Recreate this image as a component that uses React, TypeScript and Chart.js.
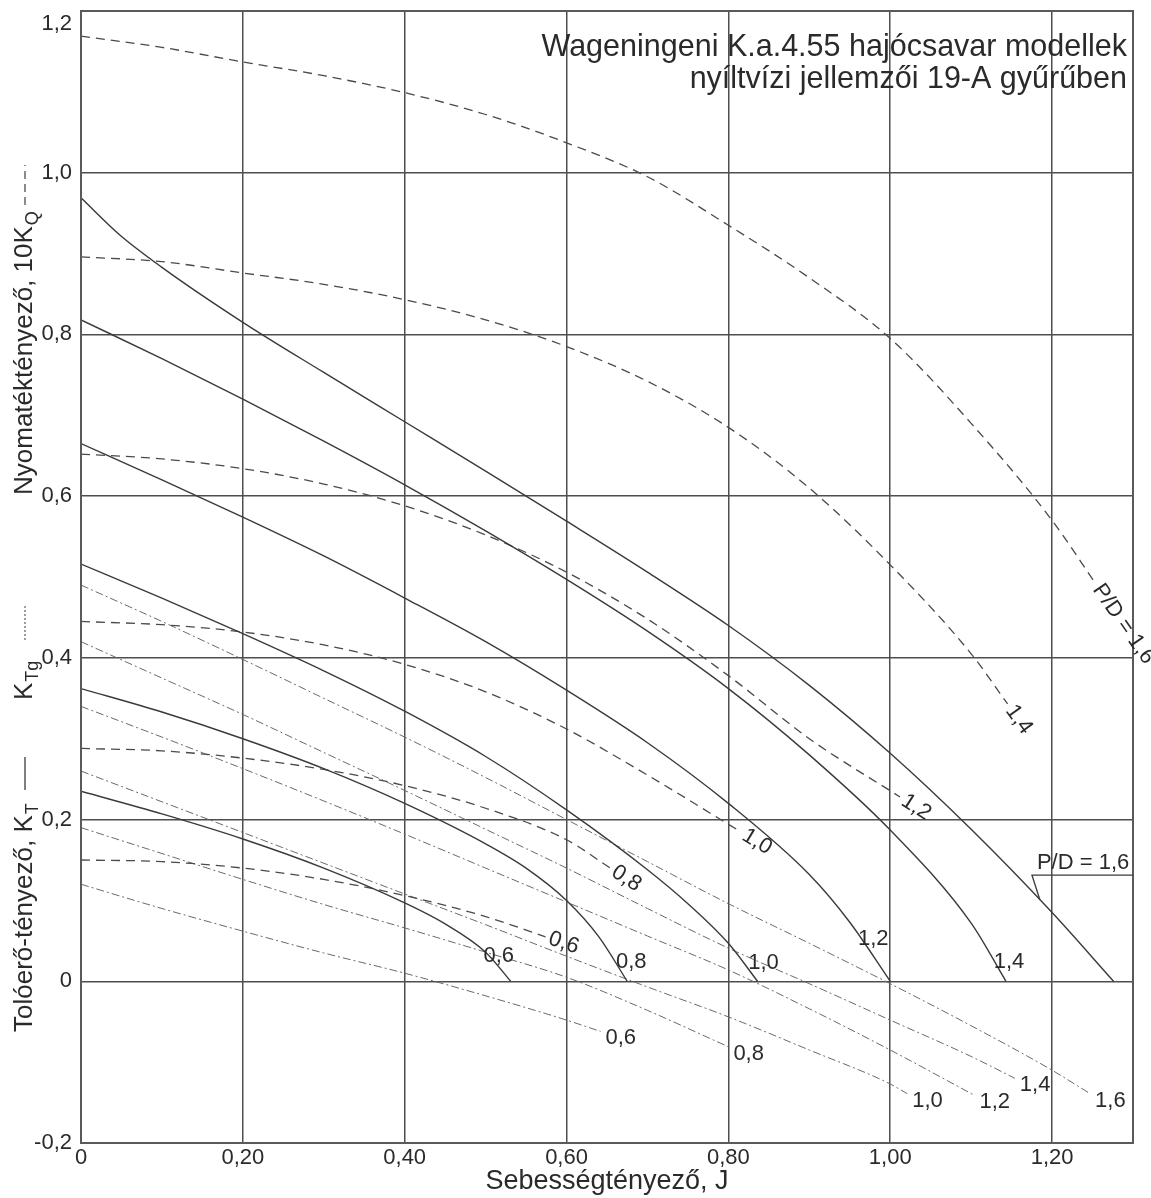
import React, { useEffect, useRef } from "react";
import { Chart, registerables } from "chart.js";

Chart.register(...registerables);

const FONT = '"Liberation Sans", Arial, Helvetica, sans-serif';

// Pitch ratios (P/D) labels
const PD_LABELS = ["0,6", "0,8", "1,0", "1,2", "1,4", "1,6"];

// ---- Thrust coefficient KT (solid) ----
const KT_J_06 = [0, 0.1, 0.2, 0.3, 0.4, 0.45, 0.5, 0.531];
const KT_V_06 = [0.235, 0.207, 0.176, 0.14, 0.097, 0.071, 0.036, 0];
const KT_J_08 = [0, 0.1, 0.2, 0.3, 0.4, 0.5, 0.55, 0.6, 0.64, 0.675];
const KT_V_08 = [0.362, 0.333, 0.3, 0.263, 0.22, 0.17, 0.14, 0.1, 0.055, 0];
const KT_J_10 = [0, 0.1, 0.2, 0.3, 0.4, 0.5, 0.6, 0.7, 0.75, 0.8, 0.836];
const KT_V_10 = [0.516, 0.474, 0.43, 0.384, 0.334, 0.278, 0.212, 0.138, 0.096, 0.047, 0];
const KT_J_12 = [0, 0.1, 0.2, 0.3, 0.4, 0.5, 0.6, 0.7, 0.8, 0.9, 0.95, 1.0];
const KT_V_12 = [0.665, 0.62, 0.574, 0.526, 0.474, 0.42, 0.36, 0.295, 0.22, 0.132, 0.073, 0];
const KT_J_14 = [0, 0.1, 0.2, 0.3, 0.4, 0.5, 0.6, 0.7, 0.8, 0.9, 1.0, 1.1, 1.143];
const KT_V_14 = [0.818, 0.77, 0.72, 0.668, 0.614, 0.557, 0.497, 0.433, 0.362, 0.28, 0.187, 0.072, 0];
const KT_J_16 = [0, 0.048, 0.1, 0.2, 0.3, 0.4, 0.5, 0.6, 0.7, 0.8, 0.9, 1.0, 1.1, 1.2, 1.276];
const KT_V_16 = [0.969, 0.923, 0.883, 0.815, 0.753, 0.692, 0.631, 0.569, 0.506, 0.44, 0.366, 0.282, 0.188, 0.085, 0];

// ---- Torque coefficient 10KQ (dashed) ----
const KQ_J_06 = [0, 0.1, 0.2, 0.3, 0.4, 0.5, 0.574];
const KQ_V_06 = [0.15, 0.148, 0.14, 0.126, 0.106, 0.08, 0.055];
const KQ_J_08 = [0, 0.1, 0.2, 0.3, 0.4, 0.5, 0.6, 0.654];
const KQ_V_08 = [0.288, 0.285, 0.276, 0.262, 0.242, 0.214, 0.175, 0.14];
const KQ_J_10 = [0, 0.1, 0.2, 0.3, 0.4, 0.5, 0.6, 0.7, 0.815];
const KQ_V_10 = [0.445, 0.441, 0.432, 0.416, 0.392, 0.358, 0.312, 0.255, 0.185];
const KQ_J_12 = [0, 0.1, 0.2, 0.3, 0.4, 0.5, 0.6, 0.7, 0.8, 0.9, 1.012];
const KQ_V_12 = [0.652, 0.646, 0.634, 0.615, 0.588, 0.552, 0.506, 0.448, 0.378, 0.3, 0.228];
const KQ_J_14 = [0, 0.1, 0.2, 0.3, 0.4, 0.5, 0.6, 0.7, 0.8, 0.9, 1.0, 1.1, 1.145];
const KQ_V_14 = [0.896, 0.89, 0.876, 0.862, 0.843, 0.818, 0.785, 0.742, 0.685, 0.61, 0.515, 0.405, 0.343];
const KQ_J_16 = [0, 0.1, 0.2, 0.3, 0.4, 0.5, 0.6, 0.7, 0.8, 0.9, 1.0, 1.1, 1.2, 1.253];
const KQ_V_16 = [1.169, 1.155, 1.137, 1.12, 1.099, 1.072, 1.037, 0.995, 0.935, 0.87, 0.795, 0.69, 0.57, 0.493];

// ---- Nozzle thrust KTg (dash-dot) ----
const KTG_J_06 = [0, 0.1, 0.2, 0.3, 0.4, 0.5, 0.6, 0.642];
const KTG_V_06 = [0.12, 0.09, 0.062, 0.035, 0.01, -0.018, -0.048, -0.062];
const KTG_J_08 = [0, 0.1, 0.2, 0.3, 0.4, 0.5, 0.6, 0.7, 0.8];
const KTG_V_08 = [0.19, 0.158, 0.126, 0.095, 0.066, 0.036, 0.005, -0.036, -0.081];
const KTG_J_10 = [0, 0.1, 0.2, 0.3, 0.4, 0.5, 0.6, 0.7, 0.8, 0.9, 1.0, 1.021];
const KTG_V_10 = [0.26, 0.222, 0.184, 0.146, 0.108, 0.07, 0.031, -0.007, -0.044, -0.085, -0.127, -0.139];
const KTG_J_12 = [0, 0.1, 0.2, 0.3, 0.4, 0.5, 0.6, 0.7, 0.8, 0.9, 1.0, 1.104];
const KTG_V_12 = [0.34, 0.302, 0.263, 0.223, 0.182, 0.14, 0.098, 0.056, 0.014, -0.034, -0.085, -0.141];
const KTG_J_14 = [0, 0.1, 0.2, 0.3, 0.4, 0.5, 0.6, 0.7, 0.8, 0.9, 1.0, 1.1, 1.154];
const KTG_V_14 = [0.42, 0.375, 0.33, 0.283, 0.236, 0.188, 0.14, 0.09, 0.041, -0.003, -0.048, -0.093, -0.12];
const KTG_J_16 = [0, 0.1, 0.2, 0.3, 0.4, 0.5, 0.6, 0.7, 0.8, 0.9, 1.0, 1.1, 1.2, 1.247];
const KTG_V_16 = [0.49, 0.445, 0.398, 0.35, 0.302, 0.252, 0.2, 0.148, 0.096, 0.047, -0.003, -0.055, -0.11, -0.139];

const KT_SERIES = [
  [KT_J_06, KT_V_06], [KT_J_08, KT_V_08], [KT_J_10, KT_V_10],
  [KT_J_12, KT_V_12], [KT_J_14, KT_V_14], [KT_J_16, KT_V_16],
];
const KQ_SERIES = [
  [KQ_J_06, KQ_V_06], [KQ_J_08, KQ_V_08], [KQ_J_10, KQ_V_10],
  [KQ_J_12, KQ_V_12], [KQ_J_14, KQ_V_14], [KQ_J_16, KQ_V_16],
];
const KTG_SERIES = [
  [KTG_J_06, KTG_V_06], [KTG_J_08, KTG_V_08], [KTG_J_10, KTG_V_10],
  [KTG_J_12, KTG_V_12], [KTG_J_14, KTG_V_14], [KTG_J_16, KTG_V_16],
];

const TITLE_LINES = [
  "Wageningeni K.a.4.55 hajócsavar modellek",
  "nyíltvízi jellemzői 19-A gyűrűben",
];
const X_TITLE = "Sebességtényező, J";
const KT_CALLOUT = "P/D = 1,6";
const KT_CALLOUT_J = 1.185;

// label offsets (pixels) for the KT end labels 0,6 .. 1,4
const KT_LABEL_OFFSETS = [
  [-12, -25], [4, -19], [6, -18], [-17, -42], [3, -19],
];

const toPts = (j: number[], v: number[]) => j.map((x, i) => ({ x, y: v[i] }));

const fmtX = (v: number) => (Math.abs(v) < 1e-9 ? "0" : v.toFixed(2).replace(".", ","));
const fmtY = (v: number) => (Math.abs(v) < 1e-9 ? "0" : v.toFixed(1).replace(".", ","));

function interp(j: number[], v: number[], x: number) {
  for (let i = 1; i < j.length; i++) {
    if (x <= j[i]) {
      const t = (x - j[i - 1]) / (j[i] - j[i - 1]);
      return v[i - 1] + t * (v[i] - v[i - 1]);
    }
  }
  return v[v.length - 1];
}

function drawVerticalText(
  ctx: CanvasRenderingContext2D,
  x: number,
  yBottom: number,
  main: string,
  sub: string,
  size: number
) {
  ctx.save();
  ctx.translate(x, yBottom);
  ctx.rotate(-Math.PI / 2);
  ctx.textAlign = "left";
  ctx.textBaseline = "middle";
  ctx.font = `${size}px ${FONT}`;
  ctx.fillText(main, 0, 0);
  const w = ctx.measureText(main).width;
  if (sub) {
    ctx.font = `${Math.round(size * 0.68)}px ${FONT}`;
    ctx.fillText(sub, w + 1, size * 0.3);
  }
  ctx.restore();
}

const annotations = {
  id: "annotations",
  afterDatasetsDraw(chart: any) {
    const { ctx, chartArea: a, scales } = chart;
    const sx = scales.x;
    const sy = scales.y;
    const P = (j: number, v: number) => ({ x: sx.getPixelForValue(j), y: sy.getPixelForValue(v) });
    ctx.save();

    // frame
    ctx.strokeStyle = "#5a5a5a";
    ctx.lineWidth = 2;
    ctx.setLineDash([]);
    ctx.strokeRect(a.left, a.top, a.right - a.left, a.bottom - a.top);

    ctx.fillStyle = "#2a2a2a";

    // chart title
    ctx.font = `30.5px ${FONT}`;
    ctx.textAlign = "right";
    ctx.textBaseline = "alphabetic";
    ctx.fillText(TITLE_LINES[0], 1127, 56);
    ctx.fillText(TITLE_LINES[1], 1127, 88);

    // KT end labels
    ctx.font = `22px ${FONT}`;
    ctx.textAlign = "center";
    ctx.textBaseline = "middle";
    for (let i = 0; i < 5; i++) {
      const [j, v] = KT_SERIES[i];
      const e = P(j[j.length - 1], v[v.length - 1]);
      const [dx, dy] = KT_LABEL_OFFSETS[i];
      ctx.fillText(PD_LABELS[i], e.x + dx, e.y + dy);
    }

    // KT P/D = 1,6 callout
    {
      const [j, v] = KT_SERIES[5];
      const c = P(KT_CALLOUT_J, interp(j, v, KT_CALLOUT_J));
      const ex = c.x - 8;
      const ey = c.y - 25;
      ctx.strokeStyle = "#3c3c3c";
      ctx.lineWidth = 1.3;
      ctx.beginPath();
      ctx.moveTo(c.x, c.y);
      ctx.lineTo(ex, ey);
      ctx.lineTo(a.right, ey);
      ctx.stroke();
      ctx.textAlign = "left";
      ctx.textBaseline = "alphabetic";
      ctx.fillText(KT_CALLOUT, ex + 5, ey - 6);
    }

    // KQ labels, rotated along curve ends
    ctx.textAlign = "left";
    ctx.textBaseline = "middle";
    for (let i = 0; i < 6; i++) {
      const [j, v] = KQ_SERIES[i];
      const n = j.length;
      const p1 = P(j[n - 2], v[n - 2]);
      const p2 = P(j[n - 1], v[n - 1]);
      const ang = Math.atan2(p2.y - p1.y, p2.x - p1.x);
      ctx.save();
      ctx.translate(p2.x, p2.y);
      ctx.rotate(ang);
      ctx.fillText(i === 5 ? "P/D = " + PD_LABELS[i] : PD_LABELS[i], 4, 0);
      ctx.restore();
    }

    // KTg labels at line ends
    ctx.textAlign = "left";
    ctx.textBaseline = "middle";
    for (let i = 0; i < 6; i++) {
      const [j, v] = KTG_SERIES[i];
      const e = P(j[j.length - 1], v[v.length - 1]);
      ctx.fillText(PD_LABELS[i], e.x + 5, e.y + 7);
    }

    // y-axis composite title
    const tx = 25;
    ctx.fillStyle = "#2a2a2a";
    drawVerticalText(ctx, tx, 1032, "Tolóerő-tényező, K", "T", 26);
    ctx.strokeStyle = "#3c3c3c";
    ctx.lineWidth = 1.3;
    ctx.setLineDash([]);
    ctx.beginPath();
    ctx.moveTo(tx, 790);
    ctx.lineTo(tx, 757);
    ctx.stroke();
    drawVerticalText(ctx, tx, 700, "K", "Tg", 26);
    ctx.lineWidth = 1;
    ctx.setLineDash([2, 2]);
    ctx.beginPath();
    ctx.moveTo(tx, 640);
    ctx.lineTo(tx, 605);
    ctx.stroke();
    drawVerticalText(ctx, tx, 495, "Nyomatéktényező, 10K", "Q", 26);
    ctx.lineWidth = 1.2;
    ctx.setLineDash([8, 5]);
    ctx.beginPath();
    ctx.moveTo(tx, 205);
    ctx.lineTo(tx, 165);
    ctx.stroke();
    ctx.setLineDash([]);

    ctx.restore();
  },
};

export default function App() {
  const ref = useRef<HTMLCanvasElement | null>(null);

  useEffect(() => {
    if (!ref.current) return;
    const datasets: any[] = [];
    KT_SERIES.forEach(([j, v], i) => {
      datasets.push({
        label: "KT " + PD_LABELS[i],
        data: toPts(j, v),
        borderColor: "#3a3a3a",
        borderWidth: 1.4,
        pointRadius: 0,
        cubicInterpolationMode: "monotone",
        fill: false,
      });
    });
    KQ_SERIES.forEach(([j, v], i) => {
      datasets.push({
        label: "10KQ " + PD_LABELS[i],
        data: toPts(j, v),
        borderColor: "#4a4a4a",
        borderWidth: 1.3,
        borderDash: [9, 6],
        pointRadius: 0,
        cubicInterpolationMode: "monotone",
        fill: false,
      });
    });
    KTG_SERIES.forEach(([j, v], i) => {
      datasets.push({
        label: "KTg " + PD_LABELS[i],
        data: toPts(j, v),
        borderColor: "#6a6a6a",
        borderWidth: 1,
        borderDash: [8, 3, 2, 3],
        pointRadius: 0,
        cubicInterpolationMode: "monotone",
        fill: false,
      });
    });

    const chart = new Chart(ref.current, {
      type: "line",
      data: { datasets },
      options: {
        responsive: false,
        animation: false,
        events: [],
        layout: { padding: { left: 0, top: 11, right: 18, bottom: 0 } },
        plugins: { legend: { display: false }, tooltip: { enabled: false } },
        scales: {
          x: {
            type: "linear",
            min: 0,
            max: 1.3,
            afterFit: (s: any) => {
              s.height = 55;
              s.paddingLeft = 0;
              s.paddingRight = 0;
            },
            ticks: {
              stepSize: 0.2,
              includeBounds: false,
              padding: 2,
              color: "#2a2a2a",
              font: { family: FONT, size: 22 },
              callback: (v: any) => fmtX(Number(v)),
              maxRotation: 0,
            },
            grid: { color: "#4e4e4e", lineWidth: 1.5, drawTicks: false },
            border: { display: false },
            title: {
              display: true,
              text: X_TITLE,
              color: "#2a2a2a",
              font: { family: FONT, size: 27 },
              padding: { top: 0, bottom: 0 },
            },
          },
          y: {
            type: "linear",
            min: -0.2,
            max: 1.2,
            afterFit: (s: any) => {
              s.width = 81;
              s.paddingTop = 0;
              s.paddingBottom = 0;
            },
            ticks: {
              stepSize: 0.2,
              padding: 9,
              color: "#2a2a2a",
              font: { family: FONT, size: 22 },
              callback: (v: any) => {
                const n = Number(v);
                const s = fmtY(n);
                return Math.abs(n - 1.2) < 1e-6 ? ["", s] : s;
              },
            },
            grid: { color: "#4e4e4e", lineWidth: 1.5, drawTicks: false },
            border: { display: false },
          },
        },
      },
      plugins: [annotations],
    });
    return () => chart.destroy();
  }, []);

  return (
    <div style={{ position: "absolute", left: 0, top: 0, width: 1151, height: 1198, background: "#fff" }}>
      <canvas ref={ref} width={1151} height={1198} style={{ display: "block" }} />
    </div>
  );
}
